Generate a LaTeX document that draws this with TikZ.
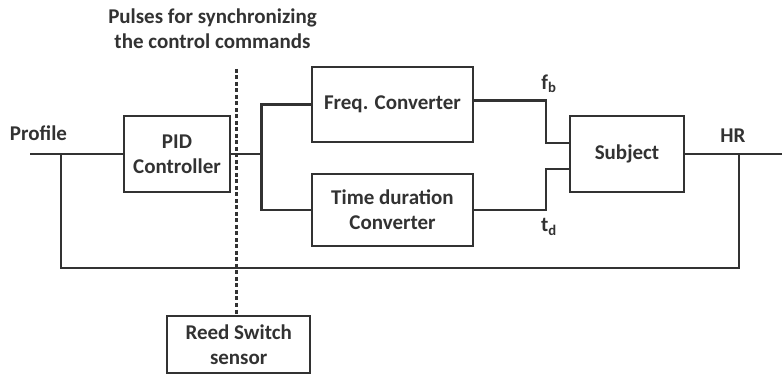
\documentclass[tikz,border=0pt]{standalone}
\usepackage{fontspec}
\setmainfont{Carlito}
\definecolor{ink}{RGB}{50,50,50}
\begin{document}
\begin{tikzpicture}[x=1pt,y=-1pt,
  line width=2.1pt, draw=ink,
  every node/.style={text=ink, font=\fontsize{21}{25}\selectfont\bfseries},
  blk/.style={draw=ink, line width=2.1pt, rectangle, inner sep=0pt, align=center},
  lbl/.style={inner sep=0pt, align=center},
  dotline/.style={draw=ink, line width=2.8pt, dash pattern=on 4pt off 2.5pt}]
\useasboundingbox (0,0) rectangle (782,374);

\node[lbl] (title) at (212.5,29) {Pulses for synchronizing\\the control commands};
\node[lbl] (profile) at (38.5,133) {Profile};
\node[lbl] (hr) at (733,136) {HR};
\node[lbl] (fb) at (549,84) {f\textsubscript{b}};
\node[lbl] (td) at (549,227) {t\textsubscript{d}};

\node[blk, minimum width=106pt, minimum height=76pt] (pid) at (177,154) {PID\\Controller};
\node[blk, minimum width=161pt, minimum height=75pt] (freq) at (392.5,104.5) {Freq. Converter};
\node[blk, minimum width=161pt, minimum height=72pt] (time) at (392.5,210) {Time duration\\Converter};
\node[blk, minimum width=114pt, minimum height=76pt] (subj) at (627,154) {Subject};
\node[blk, minimum width=143pt, minimum height=57pt] (reed) at (238.7,344.3) {Reed Switch\\sensor};

\coordinate (in) at (30,154);
\coordinate (fbL) at (61,154);
\coordinate (split) at (261.5,154);
\coordinate (fbx) at (545.7,120);
\coordinate (tdx) at (545.7,190);
\coordinate (out) at (782,154);
\coordinate (fbR) at (738.7,154);
\coordinate (botR) at (738.7,268);
\coordinate (botL) at (61,268);
\coordinate (dtop) at (236.7,69);

\draw (in) -- (pid.west);
\draw (pid.east) -- (split);
\draw (freq.west) -| (split) |- (time.west);
\draw ([yshift=4pt]freq.east) -| (fbx) |- ([yshift=11pt]subj.west);
\draw (time.east) -| (tdx) |- ([yshift=-15pt]subj.west);
\draw (subj.east) -- (out);
\draw (fbR) -- (botR) -- (botL) -- (fbL);
\draw[dotline] (dtop) -- (dtop |- reed.north);
\end{tikzpicture}
\end{document}
